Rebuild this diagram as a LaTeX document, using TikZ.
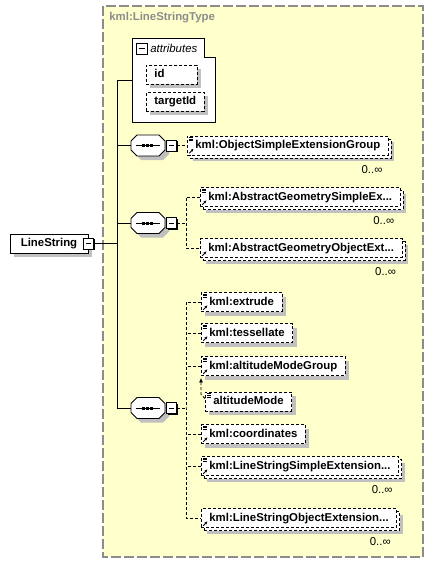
\documentclass[tikz,border=0pt]{standalone}
\usepackage{fontspec}
\setmainfont{Liberation Sans}
\usetikzlibrary{positioning,shadows,arrows.meta}

\definecolor{typefill}{HTML}{FFFFCC}
\definecolor{typeline}{HTML}{8C8C8C}
\definecolor{shgrey}{HTML}{C0C0C0}

\newcommand\xsize{\fontsize{11.4bp}{13bp}\selectfont}
\newcommand\docicon{%
  \fill[white] (path picture bounding box.north west) rectangle ++(7,7);
  \foreach \k in {1.5,3.2,4.9}
    \draw[solid,line width=0.8bp] ([shift={(1.5,\k)}]path picture bounding box.north west) -- ++(4.5,0);}
\newcommand\linkicon{%
  \fill[white] (path picture bounding box.south west) rectangle ++(7,-7);
  \draw[solid,line width=0.9bp,-{Stealth[length=2.8bp,width=2.8bp]}]
    ([shift={(1.8,-1.8)}]path picture bounding box.south west) -- ++(4.2,-4.2);}

\tikzset{
  elembase/.style={draw, dash pattern=on 3bp off 2bp, fill=white, font=\bfseries\xsize,
    inner xsep=8bp, inner ysep=0pt, minimum height=19bp, text height=8.3bp, text depth=2.3bp, anchor=west},
  elem/.style={elembase, drop shadow={shadow xshift=4bp, shadow yshift=-4bp, fill=shgrey, opacity=1}},
  multi/.style={elembase,
    preaction={draw=none, fill=shgrey, transform canvas={shift={(6bp,-6bp)}}},
    preaction={draw, dash pattern=on 3bp off 2bp, fill=white, transform canvas={shift={(3bp,-3bp)}}}},
  doc/.style={path picture={\docicon}},
  ref/.style={path picture={\docicon\linkicon}},
  link/.style={path picture={\linkicon}},
  card/.style={font=\xsize, inner sep=0pt, anchor=east},
  conn/.style={dash pattern=on 3bp off 2bp},
  rootbox/.style={draw, fill=white, font=\bfseries\xsize, minimum width=78bp, minimum height=19bp,
    text height=8.3bp, text depth=2.3bp,
    drop shadow={shadow xshift=4bp, shadow yshift=-4bp, fill=shgrey, opacity=1}},
  minus/.style={draw, fill=white, minimum width=10bp, minimum height=11bp, inner sep=0pt,
    path picture={\draw[line width=0.9bp] ([xshift=2.5bp]path picture bounding box.west)
      -- ([xshift=-2.5bp]path picture bounding box.east);}},
  minusshd/.style={minus, drop shadow={shadow xshift=1.2bp, shadow yshift=-1.2bp, fill=black, opacity=1}},
  seqpic/.pic={
    \fill[shgrey, shift={(4,4)}] (-11,-10.5) -- (11,-10.5) -- (17,-4.5) -- (17,4.5)
      -- (11,10.5) -- (-11,10.5) -- (-17,4.5) -- (-17,-4.5) -- cycle;
    \filldraw[fill=white] (-11,-10.5) -- (11,-10.5) -- (17,-4.5) -- (17,4.5)
      -- (11,10.5) -- (-11,10.5) -- (-17,4.5) -- (-17,-4.5) -- cycle;
    \draw[line width=1bp] (-12,0) -- (12,0);
    \foreach \d in {-5,-1,3} \fill ({\d-1.5},-1.5) rectangle ++(3,3);
    \node[minusshd] (-m) at (23.5,0) {};
    \coordinate (-in) at (-17,0);
  }
}

\begin{document}
\begin{tikzpicture}[x=1bp, y=-1bp, line width=0.8bp]
  \useasboundingbox (0,0) rectangle (433,564);
  \fill[white] (0,0) rectangle (433,564);
  % complex type frame
  \draw[typeline, fill=typefill, line width=1.2bp, dash pattern=on 10bp off 3bp] (103,6) rectangle (423,557);
  \node[anchor=west, inner sep=0pt, text=typeline, font=\bfseries\xsize] (ttl) at (109,18) {kml:LineStringType};

  % attributes
  \filldraw[fill=white] (132,38) -- (204,38) -- (204,57) -- (215,57) -- (215,122) -- (132,122) -- cycle;
  \node[minus, minimum width=11bp] (attm) at (141.5,48.5) {};
  \node[anchor=west, inner sep=0pt, font=\itshape\xsize] (attl) at (150,48.5) {attributes};
  \coordinate (attW) at (132,80);
  \node[elem, text width=35bp, align=left] (id) at (146,75) {id};
  \node[elem] (tid) at (146,102) {targetId};

  % root element
  \node[rootbox] (ls) at (49,243.5) {LineString};
  \node[minusshd] (lsm) at (ls.east) {};
  \coordinate (trunk) at (117,243.5);

  % compositors
  \pic (seq1) at (148,145.5) {seqpic};
  \pic (seq2) at (148,223) {seqpic};
  \pic (seq3) at (148,408) {seqpic};

  \draw (lsm.east) -- (trunk);
  \draw (attW) -- (attW -| trunk) -- (seq3-in -| trunk) -- (seq3-in);
  \draw (seq1-in -| trunk) -- (seq1-in);
  \draw (seq2-in -| trunk) -- (seq2-in);

  % children
  \node[multi, ref] (osg) at (187,145.5) {kml:ObjectSimpleExtensionGroup};
  \node[multi, ref] (agse) at (200,197) {kml:AbstractGeometrySimpleEx...};
  \node[multi, link] (agoe) at (200,248) {kml:AbstractGeometryObjectExt...};
  \node[elem, ref] (extr) at (201,302) {kml:extrude};
  \node[elem, ref] (tess) at (201,333) {kml:tessellate};
  \node[elem, ref] (amg) at (201,366) {kml:altitudeModeGroup};
  \node[elem, doc] (am) at (205,401.5) {altitudeMode};
  \node[elem, ref] (coord) at (201,434) {kml:coordinates};
  \node[multi, ref] (lsse) at (201,466) {kml:LineStringSimpleExtension...};
  \node[multi, link] (lsoe) at (201,518) {kml:LineStringObjectExtension...};

  \foreach \n in {osg,agse,agoe,lsse,lsoe}
    \node[card] (\n c) at ([xshift=-6bp,yshift=-14bp]\n.south east) {0..∞};

  % dashed links
  \coordinate (b2) at (186,223);
  \coordinate (b3) at (186,408);
  \draw[conn] (seq1-m.east) -- (osg.west);
  \draw[conn] (seq2-m.east) -- (b2);
  \draw[conn] (agse.west) -| (b2) |- (agoe.west);
  \draw[conn] (seq3-m.east) -- (b3);
  \draw[conn] (extr.west) -| (b3) |- (lsoe.west);
  \foreach \n in {tess,amg,coord,lsse}
    \draw[conn] (\n.west) -- (\n.west -| b3);
  \draw[conn, -{Latex[length=4.5bp,width=4bp]}, shorten >=2bp] ([yshift=3bp]am.west) -- ++(-4,-4) -- (amg.south west);
\end{tikzpicture}
\end{document}
